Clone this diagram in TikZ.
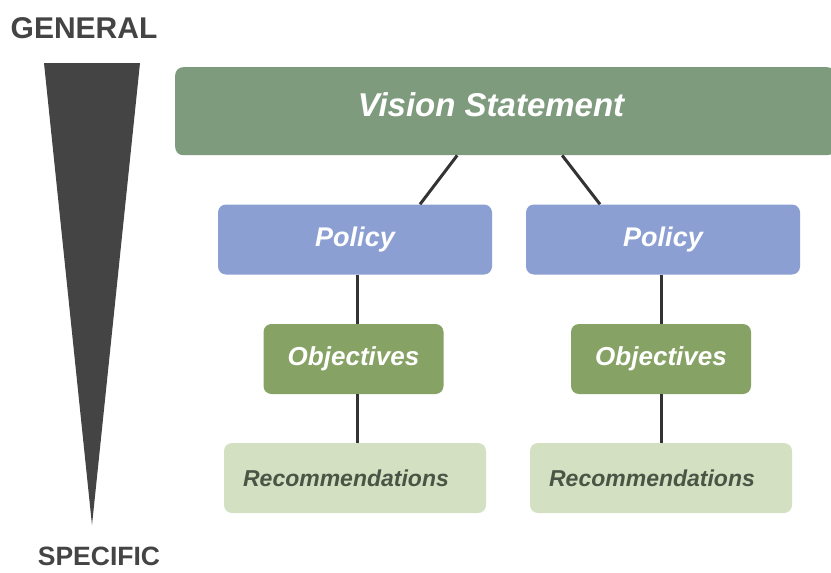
\documentclass[tikz,border=0pt]{standalone}
\usepackage{fontspec}
\setmainfont{Liberation Sans}
\definecolor{visionc}{HTML}{7F9B7D}
\definecolor{policyc}{HTML}{8C9FD3}
\definecolor{objc}{HTML}{87A265}
\definecolor{recc}{HTML}{D4E0C2}
\definecolor{rectext}{HTML}{4B5546}
\definecolor{tri}{HTML}{444444}
\definecolor{linec}{HTML}{333333}
\begin{document}
\begin{tikzpicture}[x=1pt,y=-1pt,
  boxbase/.style={rectangle, rounded corners=8pt, inner sep=0pt, draw=none},
  policybox/.style={boxbase, fill=policyc, minimum width=274pt, minimum height=70pt,
     text=white, font=\fontsize{27}{32}\selectfont\bfseries\itshape},
  objbox/.style={boxbase, fill=objc, minimum width=180pt, minimum height=70pt,
     text=white, font=\fontsize{26}{31}\selectfont\bfseries\itshape},
  recbox/.style={boxbase, fill=recc, minimum width=262pt, minimum height=70pt,
     text=rectext, font=\fontsize{23}{28}\selectfont\bfseries\itshape},
  sidelabel/.style={text=tri, font=\bfseries, inner sep=0pt},
  conn/.style={draw=linec, line width=3pt}
]
\useasboundingbox (0,0) rectangle (831,573);
\fill[white] (0,0) rectangle (831,573);

% side scale
\node[sidelabel, font=\fontsize{30}{35}\selectfont\bfseries] (general) at (84,28) {GENERAL};
\node[sidelabel, font=\fontsize{26.5}{31}\selectfont\bfseries] (specific) at (99,556) {SPECIFIC};
\coordinate (tl) at (44,63);
\coordinate (tr) at (140,63);
\coordinate (tip) at (92,525);
\fill[tri] (tl) -- (tr) -- (tip) -- cycle;

% vision
\node[boxbase, fill=visionc, minimum width=660pt, minimum height=88pt, anchor=north west] (vision) at (175,67) {};
\node[text=white, font=\fontsize{33}{40}\selectfont\bfseries\itshape, inner sep=0pt] (visiontext) at (491,105) {Vision Statement};

% left column
\node[policybox] (pol1) at (355,239.5) {Policy};
\node[objbox] (obj1) at (353.5,359) {Objectives};
\node[recbox] (rec1) at (355,478) {};
\node[text=rectext, font=\fontsize{23}{28}\selectfont\bfseries\itshape, inner sep=0pt] (rec1text) at (346,478) {Recommendations};
% right column
\node[policybox] (pol2) at (663,239.5) {Policy};
\node[objbox] (obj2) at (661,359) {Objectives};
\node[recbox] (rec2) at (661,478) {};
\node[text=rectext, font=\fontsize{23}{28}\selectfont\bfseries\itshape, inner sep=0pt] (rec2text) at (652,478) {Recommendations};

% connectors
\draw[conn] ([xshift=-48pt]vision.south) -- ([xshift=65pt]pol1.north);
\draw[conn] ([xshift=57pt]vision.south) -- ([xshift=-63pt]pol2.north);
\draw[conn] ([xshift=2pt]pol1.south) -- ([xshift=3.5pt]obj1.north);
\draw[conn] ([xshift=3.5pt]obj1.south) -- ([xshift=2pt]rec1.north);
\draw[conn] ([xshift=-2pt]pol2.south) -- (obj2.north);
\draw[conn] (obj2.south) -- (rec2.north);
\end{tikzpicture}
\end{document}
